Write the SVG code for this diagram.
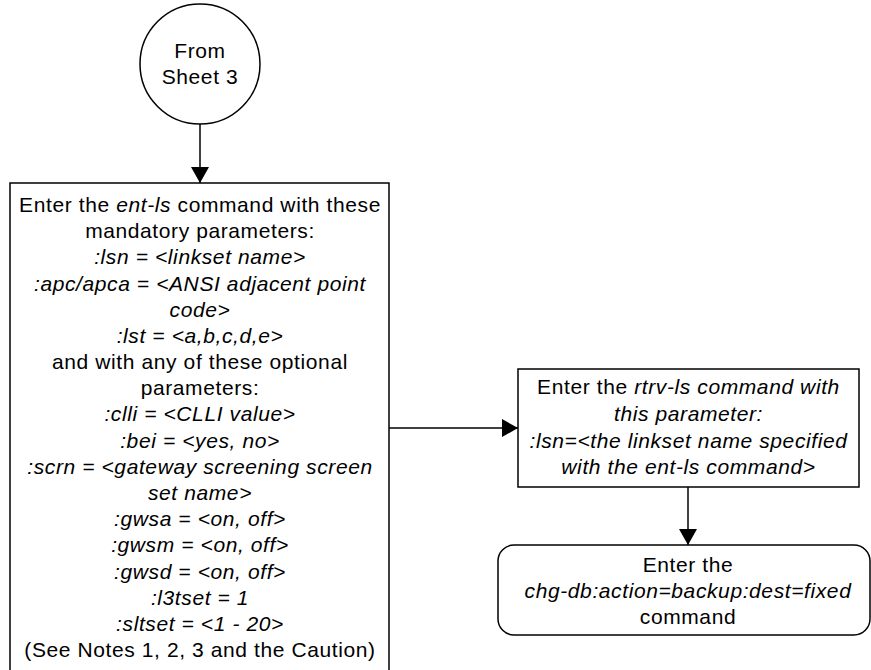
<svg xmlns="http://www.w3.org/2000/svg" width="871" height="670" viewBox="0 0 871 670">
<style>
.shape{fill:#fff;stroke:#000;stroke-width:1.5}
.conn{fill:none;stroke:#000;stroke-width:1.5}
text{font-family:"Liberation Sans",Arial,sans-serif;font-size:21px;letter-spacing:0.6px;fill:#000;text-anchor:middle}
.i{font-style:italic}
</style>
<defs>
<marker id="arr" markerWidth="20" markerHeight="20" viewBox="0 0 20 20" refX="17" refY="10" orient="auto" markerUnits="userSpaceOnUse">
<path d="M1,1 L17,10 L1,19 Z" fill="#000"/>
</marker>
</defs>
<g id="connectors">
<line class="conn" x1="200" y1="124" x2="200" y2="183" marker-end="url(#arr)"/>
<line class="conn" x1="389" y1="428" x2="518" y2="428" marker-end="url(#arr)"/>
<line class="conn" x1="688" y1="487" x2="688" y2="545" marker-end="url(#arr)"/>
</g>
<g id="start">
<circle class="shape" cx="200" cy="64" r="60"/>
<text x="200" y="58">From</text>
<text x="200" y="84">Sheet 3</text>
</g>
<g id="ent-ls">
<rect class="shape" x="10" y="183" width="379" height="490"/>
<text x="200" y="212">Enter the <tspan class="i">ent-ls</tspan> command with these</text>
<text x="200" y="238.2">mandatory parameters:</text>
<text class="i" x="200" y="264.4">:lsn = &lt;linkset name&gt;</text>
<text class="i" x="200" y="290.5">:apc/apca = &lt;ANSI adjacent point</text>
<text class="i" x="200" y="316.7">code&gt;</text>
<text class="i" x="200" y="342.9">:lst = &lt;a,b,c,d,e&gt;</text>
<text x="200" y="369.1">and with any of these optional</text>
<text x="200" y="395.3">parameters:</text>
<text class="i" x="200" y="421.4">:clli = &lt;CLLI value&gt;</text>
<text class="i" x="200" y="447.6">:bei = &lt;yes, no&gt;</text>
<text class="i" x="200" y="473.8">:scrn = &lt;gateway screening screen</text>
<text class="i" x="200" y="500">set name&gt;</text>
<text class="i" x="200" y="526.2">:gwsa = &lt;on, off&gt;</text>
<text class="i" x="200" y="552.3">:gwsm = &lt;on, off&gt;</text>
<text class="i" x="200" y="578.5">:gwsd = &lt;on, off&gt;</text>
<text class="i" x="200" y="604.7">:l3tset = 1</text>
<text class="i" x="200" y="630.9">:sltset = &lt;1 - 20&gt;</text>
<text x="200" y="657">(See Notes 1, 2, 3 and the Caution)</text>
</g>
<g id="rtrv-ls">
<rect class="shape" x="518" y="369" width="341" height="118"/>
<text x="688.5" y="394">Enter the <tspan class="i">rtrv-ls command with</tspan></text>
<text class="i" x="688.5" y="421">this parameter:</text>
<text class="i" x="688.5" y="447.5">:lsn=&lt;the linkset name specified</text>
<text class="i" x="688.5" y="474">with the ent-ls command&gt;</text>
</g>
<g id="backup">
<rect class="shape" x="498" y="545" width="372" height="90" rx="16" ry="16"/>
<text x="688" y="572">Enter the</text>
<text class="i" x="688" y="598">chg-db:action=backup:dest=fixed</text>
<text x="688" y="623.5">command</text>
</g>
</svg>
